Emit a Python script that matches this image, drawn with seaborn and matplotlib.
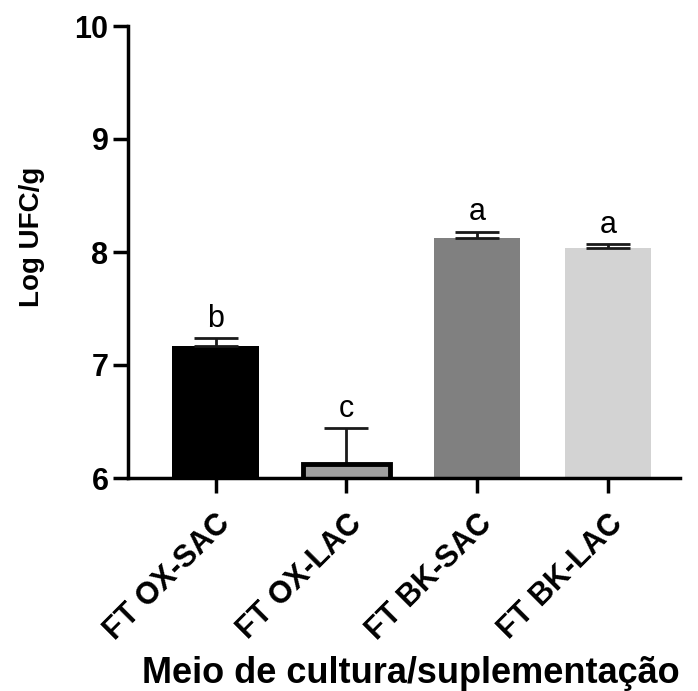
import matplotlib
matplotlib.use("Agg")
import matplotlib.pyplot as plt
import seaborn as sns
import pandas as pd

categories = ["FT OX-SAC", "FT OX-LAC", "FT BK-SAC", "FT BK-LAC"]
means = [7.17, 6.12, 8.12, 8.035]
errors = [0.07, 0.32, 0.06, 0.035]
letters = ["b", "c", "a", "a"]
colors = ["#000000", "#a0a0a0", "#808080", "#d3d3d3"]

sns.set_style("ticks")
plt.rcParams["font.family"] = ["Liberation Sans", "DejaVu Sans"]
plt.rcParams["text.color"] = "black"
plt.rcParams["axes.labelcolor"] = "black"
plt.rcParams["xtick.color"] = "black"
plt.rcParams["ytick.color"] = "black"

df = pd.DataFrame({"grupo": categories, "log": means})

fig = plt.figure(figsize=(6.98, 6.91), dpi=100)
ax = fig.add_axes([128 / 698, (691 - 478) / 691, (680 - 128) / 698, (478 - 26) / 691])

sns.barplot(data=df, x="grupo", y="log", hue="grupo", palette=colors,
            legend=False, width=0.66, ax=ax, bottom=0)

# black outline on the second bar
for i, patch in enumerate(ax.patches):
    if i == 1:
        patch.set_edgecolor("black")
        patch.set_linewidth(3.5)
        patch.set_zorder(2)
    else:
        patch.set_edgecolor(colors[i])
        patch.set_linewidth(0)

# upper-only error bars with caps, plus significance letters
for i, (m, e) in enumerate(zip(means, errors)):
    ax.errorbar(i, m, yerr=[[0], [e]], fmt="none", ecolor="#1a1a1a",
                elinewidth=2, capsize=15.5, capthick=2, zorder=1)
    ax.text(i, m + e + 0.1, letters[i], ha="center", va="baseline",
            fontsize=22, color="black")

ax.set_ylim(6, 10)
ax.set_xlim(-0.67, 3.55)
ax.set_yticks([6, 7, 8, 9, 10])
ax.set_ylabel("Log UFC/g", fontsize=20, fontweight="bold")
ax.yaxis.set_label_coords(-0.150, 0.533)
ax.set_xlabel("Meio de cultura/suplementação", fontsize=26, fontweight="bold")
ax.xaxis.set_label_coords(0.513, (691 - 683 - 213) / 452)
ax.xaxis.label.set_va("baseline")
ax.tick_params(axis="both", width=2.5, length=11, color="black")
ax.tick_params(axis="y", labelsize=22, pad=3)
ax.tick_params(axis="x", labelsize=22, pad=11)
for lab in ax.get_yticklabels():
    lab.set_fontweight("bold")
for lab in ax.get_xticklabels():
    lab.set_fontweight("bold")
    lab.set_rotation(45)
    lab.set_ha("right")
    lab.set_rotation_mode("anchor")

for side in ["left", "bottom"]:
    ax.spines[side].set_linewidth(2.5)
    ax.spines[side].set_color("black")
sns.despine(ax=ax)

fig.savefig("out.png", dpi=100)
